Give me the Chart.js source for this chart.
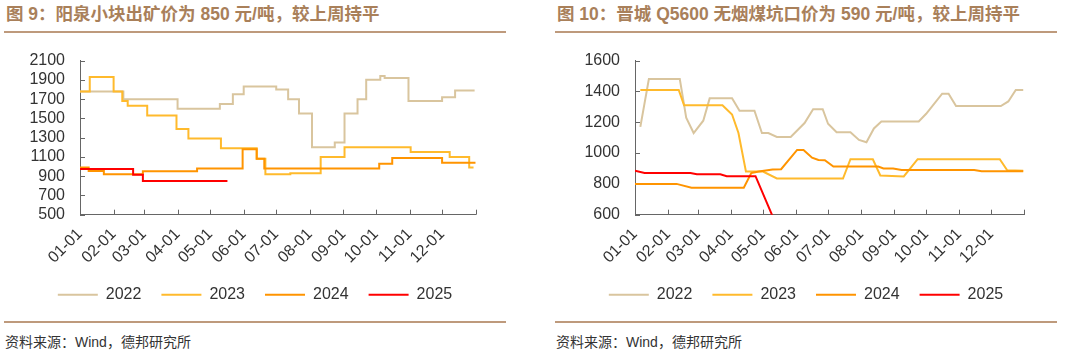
<!DOCTYPE html>
<html>
<head>
<meta charset="utf-8">
<script src="https://cdn.jsdelivr.net/npm/chart.js@4.4.1/dist/chart.umd.min.js"></script>
<style>
  html, body { margin: 0; padding: 0; background: #fff; }
  body { width: 1080px; height: 357px; position: relative; overflow: hidden; font-family: "Liberation Sans", Arial, "Noto Sans CJK SC", sans-serif; }
  .title { position: absolute; top: 4px; font-size: 17.5px; font-weight: bold; color: #A9805A; white-space: nowrap; line-height: 20px; }
  .rule { position: absolute; height: 2px; background: #BE9A7C; }
  .src { position: absolute; top: 333px; font-size: 14px; color: #333; white-space: nowrap; line-height: 18px; }
  canvas { position: absolute; }
</style>
</head>
<body>
<div class="title" style="left:6px;">图 9：阳泉小块出矿价为 850 元/吨，较上周持平</div>
<div class="title" style="left:557px;">图 10：晋城 Q5600 无烟煤坑口价为 590 元/吨，较上周持平</div>
<div class="rule" style="left:4px; width:502px; top:31px;"></div>
<div class="rule" style="left:555px; width:502px; top:31px;"></div>
<div class="rule" style="left:4px; width:502px; top:321px;"></div>
<div class="rule" style="left:555px; width:502px; top:321px;"></div>
<div class="src" style="left:5px;">资料来源：Wind，德邦研究所</div>
<div class="src" style="left:556px;">资料来源：Wind，德邦研究所</div>
<canvas id="c1" width="502" height="280" style="left:4px; top:36px;"></canvas>
<canvas id="c2" width="502" height="280" style="left:555px; top:36px;"></canvas>
<script>
// ---- shared axis data ----
const monthLabels = ['01-01','02-01','03-01','04-01','05-01','06-01','07-01','08-01','09-01','10-01','11-01','12-01'];
const monthStartDay = [0, 31, 59, 90, 120, 151, 181, 212, 243, 273, 304, 334];
const yearEndDay = 365;
const seriesNames = ['2022', '2023', '2024', '2025'];

// ---- 阳泉小块出矿价 (day of year, 元/吨) — step changes ----
const yq2022 = [[0,1780],[40,1700],[90,1600],[129,1650],[141,1750],[151,1830],[181,1800],[192,1700],[202,1550],[214,1200],[235,1250],[244,1550],[256,1700],[264,1900],[277,1940],[281,1920],[303,1680],[334,1720],[346,1790],[364,1790]];
const yq2023 = [[0,1780],[9,1930],[31,1780],[39,1680],[44,1630],[62,1530],[89,1390],[100,1290],[130,1190],[163,1080],[171,920],[194,930],[222,1100],[244,1200],[305,1150],[341,1100],[359,990],[363,990]];
const yq2024 = [[0,990],[8,955],[22,920],[58,950],[108,980],[150,1180],[163,1080],[170,980],[276,1030],[288,1090],[334,1040],[365,1040]];
const yq2025 = [[0,975],[49,915],[58,850],[136,850]];
const yqTicks = { min: 500, max: 2100, step: 200 };

// ---- 晋城 Q5600 无烟煤坑口价 (day of year, 元/吨) ----
const jc2022 = [[5,1170],[13,1480],[42,1480],[48,1230],[55,1130],[64,1210],[70,1355],[91,1355],[98,1275],[112,1275],[119,1130],[125,1130],[133,1105],[146,1105],[159,1195],[167,1285],[176,1285],[181,1190],[189,1135],[202,1135],[210,1085],[217,1070],[224,1160],[231,1205],[266,1205],[273,1255],[288,1385],[294,1385],[301,1305],[343,1305],[350,1335],[357,1410],[364,1410]];
const jc2023 = [[5,1410],[41,1410],[46,1310],[82,1310],[91,1250],[97,1130],[104,880],[120,880],[133,835],[195,835],[202,960],[223,960],[230,855],[252,848],[265,960],[342,960],[349,888],[364,885]];
const jc2024 = [[0,800],[39,800],[53,775],[102,775],[109,870],[116,880],[129,893],[137,895],[152,1020],[158,1020],[166,970],[172,955],[178,953],[186,912],[228,912],[233,900],[242,900],[250,890],[318,890],[325,882],[364,882]];
const jc2025 = [[0,885],[9,870],[52,870],[58,862],[80,862],[86,850],[113,850],[129,590],[135,590]];
const jcTicks = { min: 600, max: 1600, step: 200 };

// ---- styles ----
const COLORS = ['#D9C59E', '#FFBA2C', '#FF9400', '#FF0000'];
const AXIS = '#666666';
const FONT = '"Liberation Sans", Arial, sans-serif';

const innerTicks = {
  id: 'innerTicks',
  beforeDatasetsDraw(chart) {
    const ctx = chart.ctx, x = chart.scales.x, y = chart.scales.y;
    ctx.save();
    ctx.strokeStyle = AXIS; ctx.lineWidth = 1;
    ctx.beginPath();
    x.ticks.forEach(t => { const px = Math.round(x.getPixelForValue(t.value)) + 0.5; ctx.moveTo(px, x.top); ctx.lineTo(px, x.top - 5); });
    y.ticks.forEach(t => { const py = Math.round(y.getPixelForValue(t.value)) + 0.5; ctx.moveTo(y.right, py); ctx.lineTo(y.right + 5, py); });
    ctx.stroke();
    ctx.restore();
  }
};

function toXY(arr) { return arr.map(p => ({ x: p[0], y: p[1] })); }

function makeChart(id, series, yt, stepped, yAxisWidth, rightWidth) {
  const datasets = series.map((s, i) => ({
    label: seriesNames[i],
    data: toXY(s),
    borderColor: COLORS[i],
    backgroundColor: COLORS[i],
    borderWidth: 2,
    pointRadius: 0,
    stepped: stepped ? 'before' : false,
    tension: 0,
    fill: false
  })).reverse();
  return new Chart(document.getElementById(id), {
    type: 'line',
    data: { datasets },
    plugins: [innerTicks],
    options: {
      responsive: false,
      animation: false,
      devicePixelRatio: 1,
      layout: { padding: { top: 19.7, left: 0, right: 0, bottom: 3.3 } },
      plugins: {
        tooltip: { enabled: false },
        legend: {
          position: 'bottom',
          reverse: true,
          labels: {
            boxWidth: 40,
            boxHeight: 2,
            padding: 20,
            color: '#333',
            font: { family: FONT, size: 16 },
            generateLabels(chart) {
              const items = Chart.defaults.plugins.legend.labels.generateLabels(chart);
              items.forEach(it => { it.fillStyle = it.strokeStyle; it.lineWidth = 0; });
              return items;
            }
          }
        }
      },
      scales: {
        x: {
          type: 'linear',
          min: 0,
          max: yearEndDay,
          grid: { display: false, drawTicks: false },
          border: { display: true, color: AXIS, width: 1 },
          afterBuildTicks(scale) {
            scale.ticks = monthStartDay.map(v => ({ value: v })).concat([{ value: yearEndDay }]);
          },
          afterFit(scale) { scale.height = 52; },
          ticks: {
            autoSkip: false,
            minRotation: 45,
            maxRotation: 45,
            padding: 10,
            color: '#333',
            font: { family: FONT, size: 16 },
            callback(value, index) { return index < monthLabels.length ? monthLabels[index] : ''; }
          }
        },
        y: {
          type: 'linear',
          position: 'left',
          min: yt.min,
          max: yt.max,
          grid: { display: false, drawTicks: false },
          border: { display: true, color: AXIS, width: 1 },
          afterBuildTicks(scale) {
            const t = [];
            for (let v = yt.min; v <= yt.max; v += yt.step) t.push({ value: v });
            scale.ticks = t;
          },
          afterFit(scale) { scale.width = yAxisWidth; },
          ticks: {
            autoSkip: false,
            padding: 15,
            color: '#333',
            font: { family: FONT, size: 16 },
            callback(value) { return String(value); }
          }
        },
        pad: {
          type: 'linear',
          position: 'right',
          display: true,
          grid: { display: false, drawTicks: false },
          border: { display: false },
          ticks: { display: false },
          afterFit(scale) { scale.width = rightWidth; }
        }
      }
    }
  });
}

makeChart('c1', [yq2022, yq2023, yq2024, yq2025], yqTicks, true, 76, 30.3);
makeChart('c2', [jc2022, jc2023, jc2024, jc2025], jcTicks, false, 80, 32.7);
</script>
</body>
</html>
